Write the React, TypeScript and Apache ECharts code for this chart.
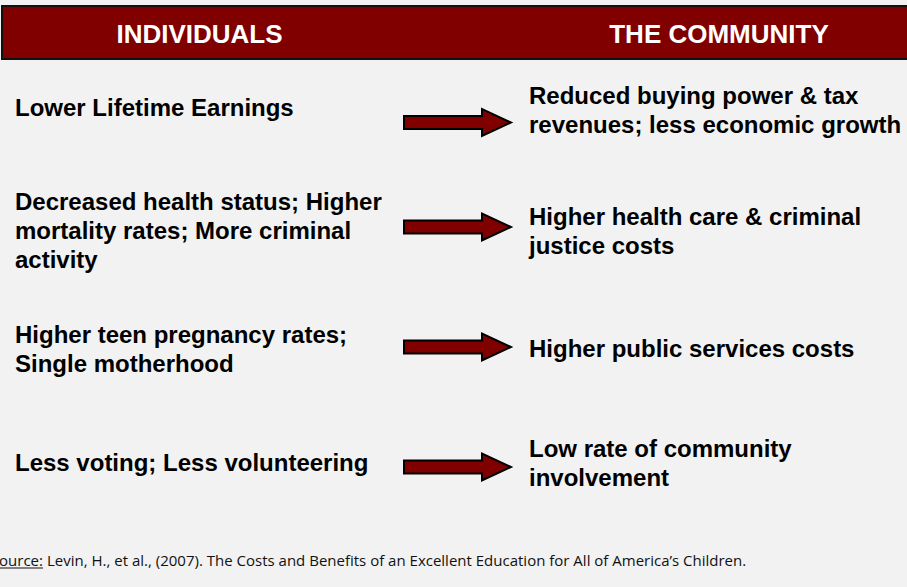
import React, { useEffect, useRef } from "react";
import * as echarts from "echarts";

const headers = ["INDIVIDUALS", "THE COMMUNITY"];
const individualEffects = [
  "Lower Lifetime Earnings",
  "Decreased health status; Higher\nmortality rates; More criminal\nactivity",
  "Higher teen pregnancy rates;\nSingle motherhood",
  "Less voting; Less volunteering",
];
const communityEffects = [
  "Reduced buying power & tax\nrevenues; less economic growth",
  "Higher health care & criminal\njustice costs",
  "Higher public services costs",
  "Low rate of community\ninvolvement",
];
const sourceLabel = "Source:";
const sourceText =
  "Levin, H., et al., (2007). The Costs and Benefits of an Excellent Education for All of America\u2019s Children.";

// layout (pixels)
const leftCenters = [107, 230, 348.5, 462];
const rightCenters = [109.5, 230.5, 348, 462.5];
const arrowCenters = [122.5, 227, 347, 467];

const DARK_RED = "#800000";
const FONT = "'Liberation Sans', Arial, Helvetica, sans-serif";

function arrow(cy: number) {
  const x0 = 404, x1 = 482, x2 = 511;
  const hs = 6.5, hh = 13.5;
  return {
    type: "polygon",
    shape: {
      points: [
        [x0, cy - hs],
        [x1, cy - hs],
        [x1, cy - hh],
        [x2, cy],
        [x1, cy + hh],
        [x1, cy + hs],
        [x0, cy + hs],
      ],
    },
    style: { fill: DARK_RED, stroke: "#000", lineWidth: 2, lineJoin: "miter" },
  };
}

export default function App() {
  const ref = useRef<HTMLDivElement>(null);
  useEffect(() => {
    document.body.style.margin = "0";
    document.body.style.background = "#f2f2f2";
    const chart = echarts.init(ref.current!, null, { renderer: "svg" });
    const elements: any[] = [];
    elements.push({
      type: "rect",
      shape: { x: 2, y: 6, width: 920, height: 53 },
      style: { fill: DARK_RED, stroke: "#111", lineWidth: 2 },
    });
    const headerX = [199.5, 719];
    headers.forEach((h, i) => {
      elements.push({
        type: "text",
        x: headerX[i],
        y: 33.5,
        style: {
          text: h,
          fill: "#fff",
          font: `bold 26px ${FONT}`,
          textAlign: "center",
          textVerticalAlign: "middle",
        },
      });
    });
    individualEffects.forEach((t, i) => {
      elements.push({
        type: "text",
        x: 15,
        y: leftCenters[i],
        style: {
          text: t,
          fill: "#000",
          font: `bold 24px ${FONT}`,
          lineHeight: 29,
          textAlign: "left",
          textVerticalAlign: "middle",
        },
      });
    });
    communityEffects.forEach((t, i) => {
      elements.push({
        type: "text",
        x: 529,
        y: rightCenters[i],
        style: {
          text: t,
          fill: "#000",
          font: `bold 24px ${FONT}`,
          lineHeight: 29,
          textAlign: "left",
          textVerticalAlign: "middle",
        },
      });
    });
    arrowCenters.forEach((cy) => elements.push(arrow(cy)));
    elements.push({
      type: "text",
      x: 43,
      y: 560,
      style: {
        text: sourceLabel,
        fill: "#111",
        font: `15px 'Open Sans', sans-serif`,
        textAlign: "right",
        textVerticalAlign: "middle",
      },
    });
    elements.push({
      type: "line",
      shape: { x1: 0, y1: 568, x2: 43, y2: 568 },
      style: { stroke: "#111", lineWidth: 1 },
    });
    elements.push({
      type: "text",
      x: 47,
      y: 560,
      style: {
        text: sourceText,
        fill: "#111",
        font: `15px 'Open Sans', sans-serif`,
        textAlign: "left",
        textVerticalAlign: "middle",
      },
    });
    chart.setOption({
      animation: false,
      backgroundColor: "#f2f2f2",
      graphic: { elements },
    });
    return () => chart.dispose();
  }, []);
  return (
    <div
      ref={ref}
      style={{ position: "absolute", left: 0, top: 0, width: 907, height: 587 }}
    />
  );
}
